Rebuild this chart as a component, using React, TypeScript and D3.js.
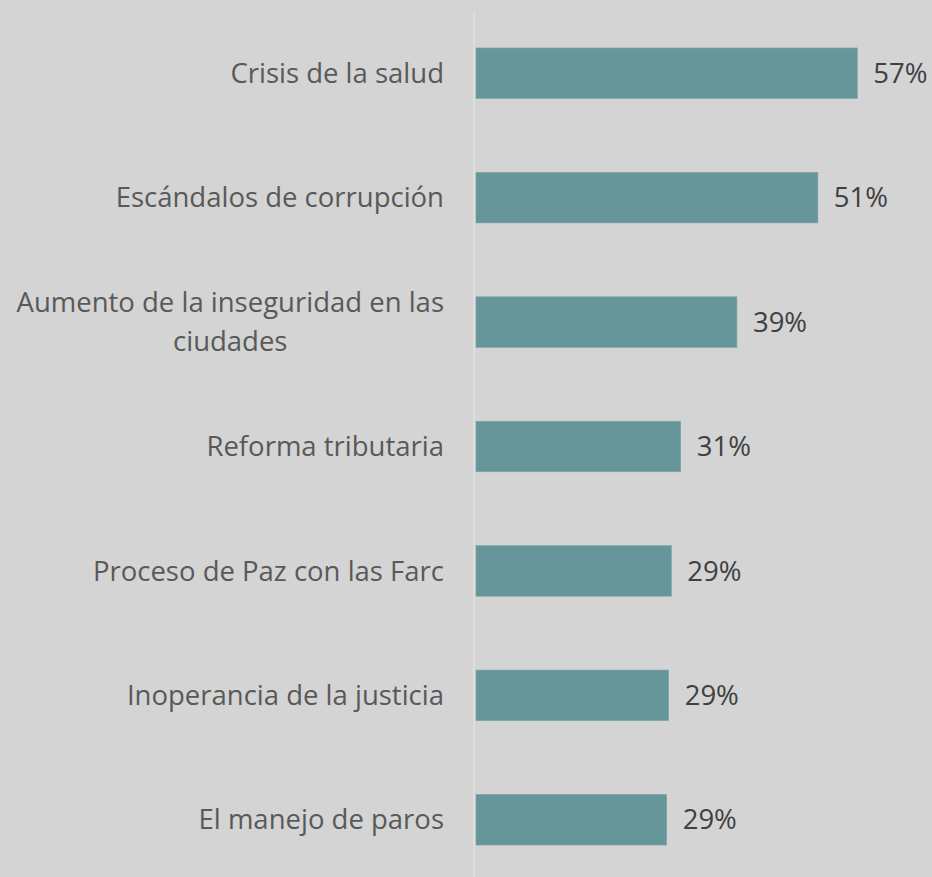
import React, { useEffect, useRef } from "react";
import * as d3 from "d3";

// categories, top to bottom
const categories = [
  "Crisis de la salud",
  "Escándalos de corrupción",
  "Aumento de la inseguridad en las ciudades",
  "Reforma tributaria",
  "Proceso de Paz con las Farc",
  "Inoperancia de la justicia",
  "El manejo de paros",
];

// share of respondents (%)
const values = [57, 51.1, 39, 30.6, 29.2, 28.8, 28.5];

// how each category label breaks into lines
const labelLines = [
  ["Crisis de la salud"],
  ["Escándalos de corrupción"],
  ["Aumento de la inseguridad en las", "ciudades"],
  ["Reforma tributaria"],
  ["Proceso de Paz con las Farc"],
  ["Inoperancia de la justicia"],
  ["El manejo de paros"],
];

const App = () => {
  const svgRef = useRef<SVGSVGElement>(null);

  useEffect(() => {
    document.body.style.margin = "0";
    const width = 932;
    const height = 877;
    const font = "'Open Sans', sans-serif";
    const fontSize = 27.5;

    const svg = d3.select(svgRef.current).attr("width", width).attr("height", height);
    svg.selectAll("*").remove();

    svg.append("rect").attr("width", width).attr("height", height).attr("fill", "#d4d4d4");

    const data = categories.map((name, i) => ({ name, value: values[i], lines: labelLines[i] }));

    const y = d3
      .scaleBand()
      .domain(categories)
      .range([11, 882])
      .paddingInner(0.594)
      .paddingOuter(0.297);

    const x = d3.scaleLinear().domain([0, 60]).range([476, 877.4]);

    // vertical axis line
    svg
      .append("line")
      .attr("x1", 474)
      .attr("x2", 474)
      .attr("y1", 12)
      .attr("y2", height)
      .attr("stroke", "#dedede")
      .attr("stroke-width", 2);

    // bars
    svg
      .selectAll("rect.bar")
      .data(data)
      .enter()
      .append("rect")
      .attr("class", "bar")
      .attr("x", x(0))
      .attr("y", (d) => y(d.name)!)
      .attr("width", (d) => x(d.value) - x(0))
      .attr("height", y.bandwidth())
      .attr("fill", "#669699")
      .attr("stroke", "#7aa5a8")
      .attr("stroke-width", 0.6);

    // value labels
    svg
      .selectAll("text.val")
      .data(data)
      .enter()
      .append("text")
      .attr("class", "val")
      .attr("x", (d) => x(d.value) + 16)
      .attr("y", (d) => y(d.name)! + y.bandwidth() / 2)
      .attr("dy", "0.35em")
      .attr("font-family", font)
      .attr("font-size", fontSize)
      .attr("fill", "#404040")
      .text((d) => d3.format(".0f")(d.value) + "%");

    // category labels, each block right aligned, lines centred in it
    data.forEach((d) => {
      const cy = y(d.name)! + y.bandwidth() / 2;
      const lh = 39;
      const g = svg.append("g");
      const texts = d.lines.map((line, j) =>
        g
          .append("text")
          .attr("y", cy + (j - (d.lines.length - 1) / 2) * lh)
          .attr("dy", "0.35em")
          .attr("text-anchor", "middle")
          .attr("font-family", font)
          .attr("font-size", fontSize)
          .attr("fill", "#595959")
          .text(line)
      );
      const widest = d3.max(texts, (t) => (t.node() as SVGTextElement).getComputedTextLength())!;
      texts.forEach((t) => t.attr("x", 444 - widest / 2));
    });
  }, []);

  return <svg ref={svgRef} style={{ display: "block" }}></svg>;
};

export default App;
